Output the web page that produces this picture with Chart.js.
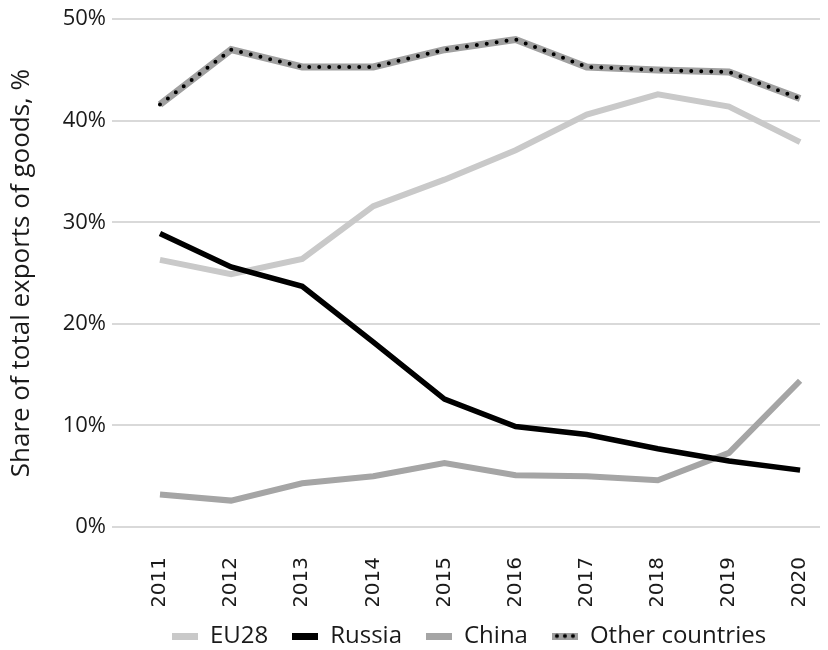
<!DOCTYPE html>
<html>
<head>
<meta charset="utf-8">
<script src="https://cdn.jsdelivr.net/npm/chart.js@4"></script>
<style>
html,body{margin:0;padding:0;background:#fff;}
#wrap{width:828px;height:650px;}
</style>
</head>
<body>
<div id="wrap"><canvas id="c" width="828" height="650"></canvas></div>
<script>
const years = [2011, 2012, 2013, 2014, 2015, 2016, 2017, 2018, 2019, 2020];
const eu28 = [26.3, 24.9, 26.4, 31.6, 34.2, 37.1, 40.6, 42.6, 41.4, 37.9];
const russia = [28.9, 25.6, 23.7, 18.2, 12.6, 9.9, 9.1, 7.7, 6.5, 5.6];
const china = [3.2, 2.6, 4.3, 5.0, 6.3, 5.1, 5.0, 4.6, 7.3, 14.4];
const other = [41.6, 47.0, 45.3, 45.3, 47.0, 48.0, 45.3, 45.0, 44.8, 42.2];
const yTicks = [0, 10, 20, 30, 40, 50];

const pts = arr => years.map((y, i) => ({x: y, y: arr[i]}));
const TXT = '#1a1a1a';

function marker(color, dotted) {
  const c = document.createElement('canvas');
  c.width = 26; c.height = 7;
  const g = c.getContext('2d');
  g.fillStyle = color;
  g.fillRect(0, 0, 26, 7);
  if (dotted) {
    g.fillStyle = '#000';
    [5, 13, 21].forEach(x => { g.beginPath(); g.arc(x, 3.5, 2, 0, Math.PI * 2); g.fill(); });
  }
  return c;
}

const legendFit = {
  id: 'legendFit',
  beforeUpdate(chart) {
    const lg = chart.legend;
    if (lg && !lg._fitWrapped) {
      const orig = lg.fit.bind(lg);
      lg.fit = function () { orig(); this.height = 44; };
      lg._fitWrapped = true;
    }
  },
  afterLayout(chart) {
    const lg = chart.legend;
    const shift = (chart.chartArea.left + chart.chartArea.right) / 2 - (lg.left + lg.right) / 2;
    lg.left += shift; lg.right += shift;
    lg.top -= 6; lg.bottom -= 6;
  }
};

const ctx = document.getElementById('c').getContext('2d');
new Chart(ctx, {
  type: 'line',
  plugins: [legendFit],
  data: {
    datasets: [
      {label: 'EU28', data: pts(eu28), order: 4, borderColor: '#c9c9c9', borderWidth: 6, pointRadius: 0, tension: 0},
      {label: 'Russia', data: pts(russia), order: 2, borderColor: '#000000', borderWidth: 5.5, pointRadius: 0, tension: 0},
      {label: 'China', data: pts(china), order: 3, borderColor: '#a5a5a5', borderWidth: 6, pointRadius: 0, tension: 0},
      {label: 'Other countries', data: pts(other), order: 0, borderColor: '#000000', borderWidth: 4, borderDash: [0, 10], borderCapStyle: 'round', pointRadius: 0, tension: 0},
      {label: '_under', data: pts(other), order: 1, borderColor: '#a0a0a0', borderWidth: 7, pointRadius: 0, tension: 0}
    ]
  },
  options: {
    responsive: false,
    devicePixelRatio: 1,
    animation: false,
    layout: {padding: {left: 6, right: 8, top: 6, bottom: 0}},
    plugins: {
      tooltip: {enabled: false},
      legend: {
        position: 'bottom',
        labels: {
          font: {family: 'Open Sans', size: 24},
          color: TXT,
          usePointStyle: true,
          pointStyleWidth: 26,
          boxWidth: 26,
          boxHeight: 7,
          padding: 24,
          sort: (a, b) => a.datasetIndex - b.datasetIndex,
          generateLabels: chart => chart.data.datasets
            .map((d, i) => ({d, i}))
            .filter(o => o.d.label !== '_under')
            .map(o => {
              const isOther = o.d.label === 'Other countries';
              return {
                text: o.d.label,
                fillStyle: o.d.borderColor,
                strokeStyle: o.d.borderColor,
                pointStyle: isOther ? marker('#a0a0a0', true) : marker(o.d.borderColor, false),
                lineWidth: 0, hidden: false, datasetIndex: o.i, fontColor: TXT
              };
            })
        }
      }
    },
    scales: {
      x: {
        type: 'linear',
        min: 2010.41,
        max: 2020.28,
        afterFit: s => { s.height = 79; s.paddingLeft = 0; s.paddingRight = 0; },
        grid: {display: false},
        border: {display: false},
        ticks: {
          stepSize: 1,
          includeBounds: false,
          autoSkip: false,
          minRotation: 90,
          maxRotation: 90,
          padding: 22,
          color: TXT,
          font: {family: 'DejaVu Sans', size: 20},
          callback: v => String(v)
        }
      },
      y: {
        min: 0,
        max: 50,
        afterBuildTicks: s => { s.ticks = yTicks.map(v => ({value: v})); },
        afterFit: s => { s.width = 112; },
        grid: {color: '#d9d9d9', lineWidth: 2, tickLength: 6},
        border: {display: false},
        ticks: {
          color: TXT,
          padding: 6,
          font: {family: 'Open Sans', size: 22},
          callback: v => v + '%'
        },
        title: {
          display: true,
          text: 'Share of total exports of goods, %',
          color: TXT,
          font: {family: 'Open Sans', size: 26},
          padding: {top: 0, bottom: 6}
        }
      }
    }
  }
});
</script>
</body>
</html>
